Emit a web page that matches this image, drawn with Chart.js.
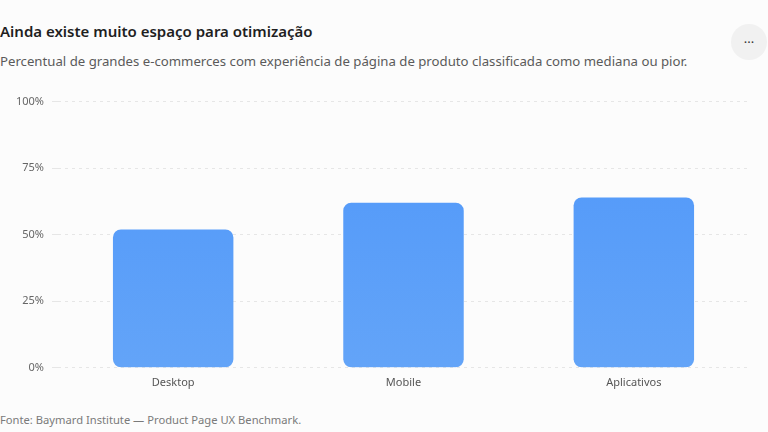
<!DOCTYPE html>
<html>
<head>
<meta charset="utf-8">
<script src="https://cdn.jsdelivr.net/npm/chart.js@4.4.1/dist/chart.umd.min.js"></script>
<style>
  html, body { margin:0; padding:0; background:#fcfcfc; width:768px; height:432px; overflow:hidden; font-family:"Noto Sans", "Open Sans", sans-serif; }
  #title { position:absolute; left:0; top:21px; font-size:15px; font-weight:600; color:#1f1f1f; white-space:nowrap; }
  #sub { position:absolute; left:0; top:52px; font-size:13.2px; color:#5a5a5a; white-space:nowrap; }
  #foot { position:absolute; left:0; top:412px; font-size:11.2px; color:#7a7a7a; white-space:nowrap; }
  #menu { position:absolute; left:731px; top:24px; width:36px; height:36px; border-radius:50%; background:#f1f1f1; color:#333; font-size:13px; line-height:36px; text-align:center; }
  #wrap { position:absolute; left:0; top:87px; width:768px; height:302px; }
</style>
</head>
<body>
<div id="title">Ainda existe muito espaço para otimização</div>
<div id="sub">Percentual de grandes e-commerces com experiência de página de produto classificada como mediana ou pior.</div>
<div id="menu">···</div>
<div id="wrap"><canvas id="c"></canvas></div>
<div id="foot">Fonte: Baymard Institute — Product Page UX Benchmark.</div>
<script>
const categories = ["Desktop", "Mobile", "Aplicativos"];
const values = [52, 62, 64];
const yTicks = [0, 25, 50, 75, 100];

const ctx = document.getElementById('c');
new Chart(ctx, {
  type: 'bar',
  data: {
    labels: categories,
    datasets: [{
      data: values,
      backgroundColor: function(c) {
        const ch = c.chart; const a = ch.chartArea;
        if (!a) return '#569cf9';
        const g = ch.ctx.createLinearGradient(0, a.top, 0, a.bottom);
        g.addColorStop(0, '#4f97fa');
        g.addColorStop(1, '#63a4f8');
        return g;
      },
      borderRadius: 8,
      borderSkipped: false,
      categoryPercentage: 1,
      barPercentage: 0.523
    }]
  },
  options: {
    responsive: true,
    maintainAspectRatio: false,
    animation: false,
    layout: { padding: { top: 14, right: 19, bottom: 0, left: 0 } },
    plugins: { legend: { display: false }, tooltip: { enabled: false } },
    scales: {
      x: {
        grid: { display: false },
        border: { display: false },
        ticks: { color: '#555', font: { family: 'Noto Sans', size: 11 }, padding: 0 }
      },
      y: {
        min: 0, max: 100,
        afterBuildTicks: s => { s.ticks = yTicks.map(v => ({ value: v })); },
        afterFit: s => { s.width = 58; },
        grid: { color: '#e6e6e6', lineWidth: 1, drawTicks: true, tickLength: 6 },
        border: { display: false, dash: [3, 4] },
        ticks: { color: '#666', font: { family: 'Noto Sans', size: 11 }, padding: 8, callback: v => v + '%' }
      }
    }
  }
});
</script>
</body>
</html>
